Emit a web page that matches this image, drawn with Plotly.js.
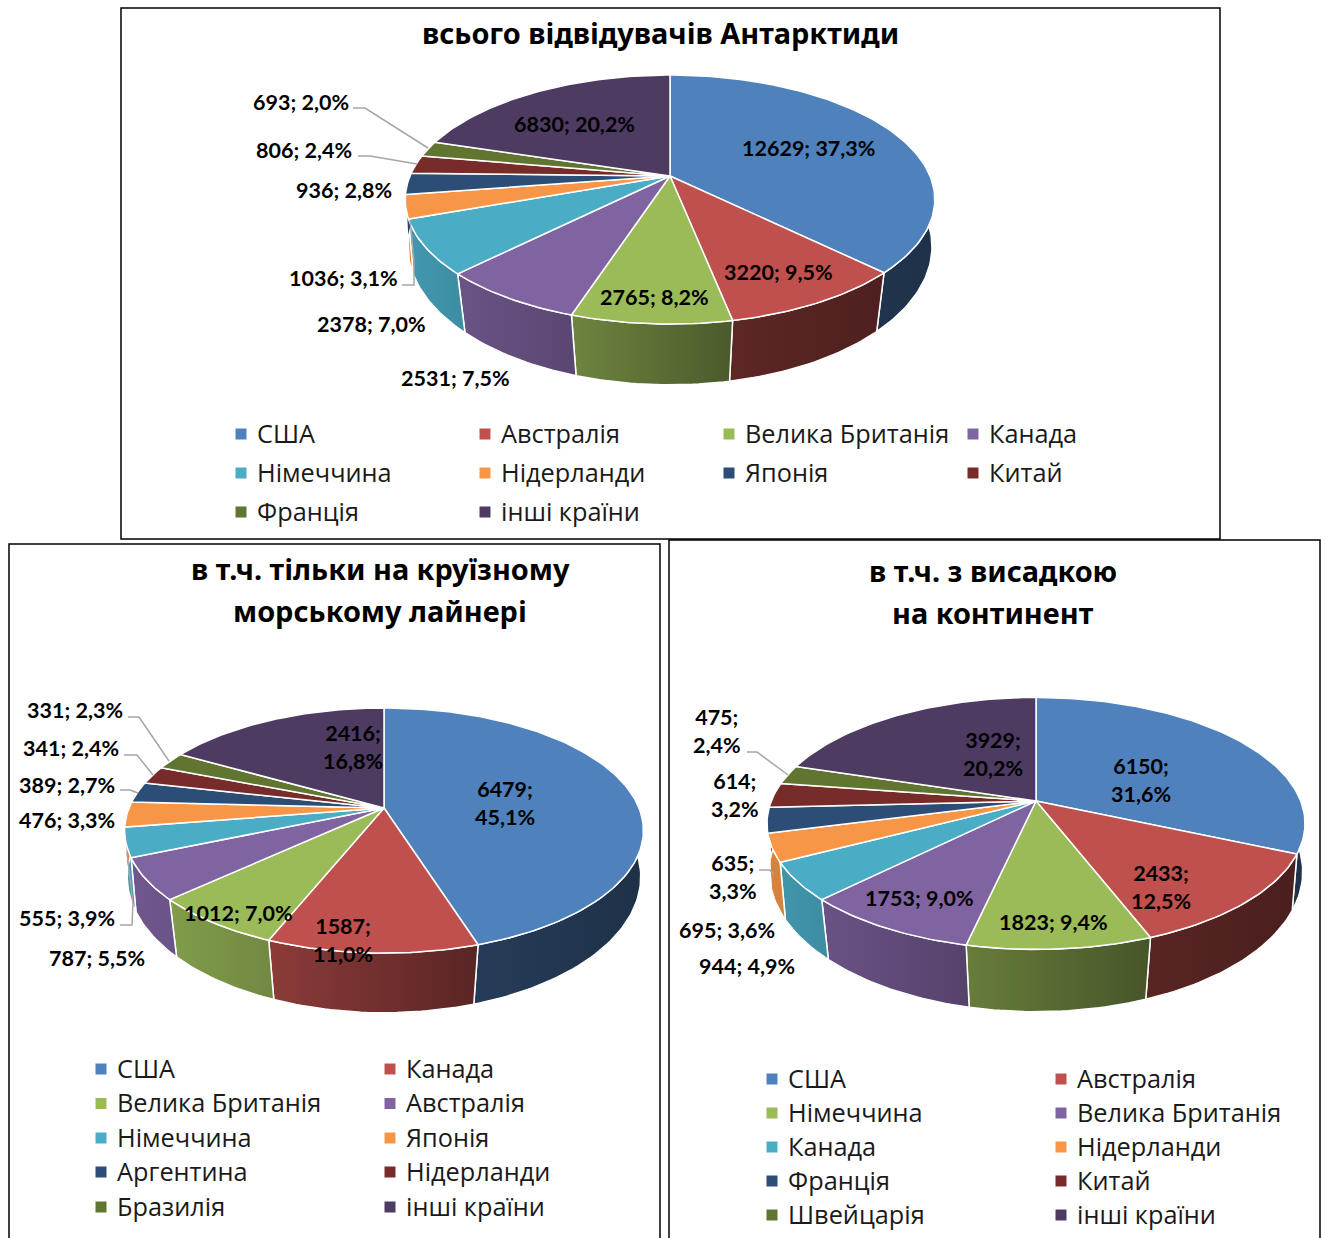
<!DOCTYPE html>
<html><head><meta charset="utf-8">
<script src="https://cdn.plot.ly/plotly-3.0.1.min.js"></script>
<style>html,body{margin:0;padding:0;background:#fff}#c{width:1327px;height:1238px}</style>
</head><body><div id="c"></div>
<script>
// ---------- data ----------
const allCategories = ['США','Австралія','Велика Британія','Канада','Німеччина','Нідерланди','Японія','Китай','Франція','інші країни'];
const allValues = [12629,3220,2765,2531,2378,1036,936,806,693,6830];
const cruiseCategories = ['США','Канада','Велика Британія','Австралія','Німеччина','Японія','Аргентина','Нідерланди','Бразилія','інші країни'];
const cruiseValues = [6479,1587,1012,787,555,476,389,341,331,2416];
const landingCategories = ['США','Австралія','Німеччина','Велика Британія','Канада','Нідерланди','Франція','Китай','Швейцарія','інші країни'];
const landingValues = [6150,2433,1823,1753,944,695,635,614,475,3929];
const sliceColors = ['#4F81BD','#C0504D','#9BBB59','#8064A2','#4BACC6','#F79646','#2C4D75','#772C2A','#5F7530','#4D3B62'];

// ---------- layout config (page pixels) ----------
const W = 1327, H = 1238;
const LABEL_FONT = 'Lato, "Open Sans", sans-serif';
const TITLE_FONT = '"Noto Sans", sans-serif';
const LEGEND_FONT = '"Open Sans", sans-serif';
const panels = [
  {key:'', cats:allCategories, vals:allValues, box:[121,8,1220,539],
   g:{cx:670,cy:176,A:260,B:120,k:.189}, low:{cy:226,A:259,B:135,k:.15},
   title:[[660,33,'всього відвідувачів Антарктиди']],
   labels:[[808,148,0],[778,272,0],[654,297,0],[455,378,0],[371,324,0],[343,278,0],[344,190,0],[304,150,0],[301,102,0],[574,124,0]],
   leaders:[[[353,108],[365,108],[428,148]],[[358,156],[370,156],[417,164]],[[402,285],[414,285],[414,260],[410,220]]],
   legend:{cols:[241,485,729,973],rows:[434,473,512]}},
  {key:'2', cats:cruiseCategories, vals:cruiseValues, box:[9,544,660,1245],
   g:{cx:384,cy:808,A:255,B:118.4,k:.1837}, low:{cy:857,A:254,B:133,k:.146},
   title:[[380,568,'в т.ч. тільки на круїзному'],[380,610,'морському лайнері']],
   labels:[[505,803,1],[343,940,1],[238,913,0],[97,958,0],[67,918,0],[67,820,0],[67,785,0],[71,748,0],[75,710,0],[353,747,1]],
   leaders:[[[128,717],[139,717],[169,761]],[[124,755],[137,755],[153,775]],[[120,790],[130,790],[138,793]],[[120,925],[132,925],[133,903],[127,853]]],
   legend:{cols:[101,390],rows:[1069,1103.5,1138,1172,1207]}},
  {key:'3', cats:landingCategories, vals:landingValues, box:[669,540,1320,1245],
   g:{cx:1036,cy:801,A:264.7,B:122,k:.178}, low:{cy:852,A:264,B:137,k:.142},
   title:[[993,570.5,'в т.ч. з висадкою'],[993,612.5,'на континент']],
   labels:[[1141,780,1],[1161,887,1],[1053,922,0],[919,898,0],[747,966,0],[727,930,0],[733,877,1],[735,795,1],[717,731,1],[993,754,1]],
   leaders:[[[747,752],[757,752],[788,775]],[[759,870],[770,870],[774,875]]],
   legend:{cols:[772,1061],rows:[1079,1113,1147,1181,1215]}}
];

// ---------- helpers ----------
const rad = d => d*Math.PI/180;
function proj(g, q, deg){
  const X=Math.sin(rad(deg)), Y=Math.cos(rad(deg)), w=1+q.k*Y;
  return [g.cx+q.A*X/w, q.cy-q.B*Y/w];
}
function shade(hex,f){
  const n=parseInt(hex.slice(1),16);
  return `rgb(${Math.round((n>>16&255)*f)},${Math.round((n>>8&255)*f)},${Math.round((n&255)*f)})`;
}
function wallShade(u){
  const t=[[0,.88],[.3,.72],[.62,.48],[1,.38]];
  for(let i=1;i<t.length;i++) if(u<=t[i][0]){const a=t[i-1],b=t[i];return a[1]+(b[1]-a[1])*(u-a[0])/(b[0]-a[0]);}
  return .38;
}
function arc(a0,a1){const n=Math.max(2,Math.ceil((a1-a0)/1.2)),r=[];for(let i=0;i<=n;i++)r.push(a0+(a1-a0)*i/n);return r;}

const traces=[], annotations=[], shapes=[], layout={};
panels.forEach((p,pi)=>{
  const [x0,y0,x1,y1]=p.box, g=p.g, xa='x'+p.key, ya='y'+p.key;
  const pad=6, yb=Math.min(y1,H), total=p.vals.reduce((a,b)=>a+b,0);
  layout['xaxis'+p.key]={domain:[(x0-pad)/W,(x1+pad)/W],range:[x0-pad,x1+pad],visible:false,fixedrange:true,anchor:ya};
  layout['yaxis'+p.key]={domain:[1-yb/H,1-(y0-pad)/H],range:[yb,y0-pad],visible:false,fixedrange:true,anchor:xa};
  shapes.push({type:'rect',xref:'paper',yref:'paper',x0:x0/W,x1:x1/W,y0:1-y1/H,y1:1-y0/H,line:{color:'#000',width:1.5},fillcolor:'rgba(0,0,0,0)',layer:'below'});
  const left=g.cx-g.A*1.02, width=g.A*2.04;
  // walls first, faces over them
  const spans=[]; let acc=0;
  p.vals.forEach(v=>{spans.push([acc/total*360,(acc+v)/total*360]);acc+=v;});
  spans.forEach((sp,i)=>{
    const a0=Math.max(sp[0],85), a1=Math.min(sp[1],275);
    if(a1<=a0) return;
    const ang=arc(a0,a1), top=ang.map(a=>proj(g,g,a)), low=ang.map(a=>proj(g,p.low,a)).reverse();
    const pts=top.concat(low); pts.push(top[0]);
    const xs=pts.map(q=>q[0]), ys=pts.map(q=>q[1]);
    const u0=(Math.min(...xs)-left)/width, u1=(Math.max(...xs)-left)/width;
    traces.push({type:'scatter',mode:'lines',x:xs,y:ys,xaxis:xa,yaxis:ya,fill:'toself',
      fillgradient:{type:'horizontal',colorscale:[[0,shade(sliceColors[i],wallShade(u0))],[1,shade(sliceColors[i],wallShade(u1))]]},
      line:{color:'#fff',width:1.5},showlegend:false,hoverinfo:'skip'});
  });
  spans.forEach((sp,i)=>{
    const pts=arc(sp[0],sp[1]).map(a=>proj(g,g,a));
    const xs=[g.cx].concat(pts.map(q=>q[0]),[g.cx]), ys=[g.cy].concat(pts.map(q=>q[1]),[g.cy]);
    traces.push({type:'scatter',mode:'lines',x:xs,y:ys,xaxis:xa,yaxis:ya,fill:'toself',fillcolor:sliceColors[i],
      line:{color:'#fff',width:1.5},name:p.cats[i],showlegend:false,
      text:p.cats[i]+': '+p.vals[i],hoverinfo:'text',hoveron:'fills'});
  });
  // legend grid, row by row
  const nc=p.legend.cols.length;
  const lx=p.cats.map((c,i)=>p.legend.cols[i%nc]), ly=p.cats.map((c,i)=>p.legend.rows[Math.floor(i/nc)]);
  traces.push({type:'scatter',mode:'markers',x:lx,y:ly,xaxis:xa,yaxis:ya,showlegend:false,hoverinfo:'skip',
    marker:{symbol:'square',size:11,color:sliceColors}});
  traces.push({type:'scatter',mode:'text',x:lx.map(v=>v+16),y:ly.map(v=>v+2.5),xaxis:xa,yaxis:ya,showlegend:false,hoverinfo:'skip',
    text:p.cats,textposition:'middle right',textfont:{family:LEGEND_FONT,size:25.3,color:'#1a1a1a'},cliponaxis:false});
  // data labels
  p.labels.forEach((l,i)=>{
    const pct=(p.vals[i]/total*100).toFixed(1).replace('.',',');
    annotations.push({xref:xa,yref:ya,x:l[0],y:l[1],showarrow:false,xanchor:'center',yanchor:'middle',
      text:`<b>${p.vals[i]};${l[2]?'<br>':' '}${pct}%</b>`,font:{family:LABEL_FONT,size:21.5,color:'#000'}});
  });
  p.title.forEach(t=>annotations.push({xref:xa,yref:ya,x:t[0],y:t[1],showarrow:false,xanchor:'center',yanchor:'middle',
    text:`<b>${t[2]}</b>`,font:{family:TITLE_FONT,size:28.9,color:'#000'}}));
  p.leaders.forEach(pts=>{
    const path='M'+pts.map(q=>q.join(',')).join('L');
    shapes.push({type:'path',xref:xa,yref:ya,path,line:{color:'#A6A6A6',width:1.5}});
  });
});

Object.assign(layout,{width:W,height:H,margin:{l:0,r:0,t:0,b:0},paper_bgcolor:'#fff',plot_bgcolor:'rgba(0,0,0,0)',
  annotations,shapes,showlegend:false,hovermode:'closest',font:{family:LABEL_FONT}});
Plotly.newPlot('c',traces,layout,{displayModeBar:false,responsive:false});
</script></body></html>
